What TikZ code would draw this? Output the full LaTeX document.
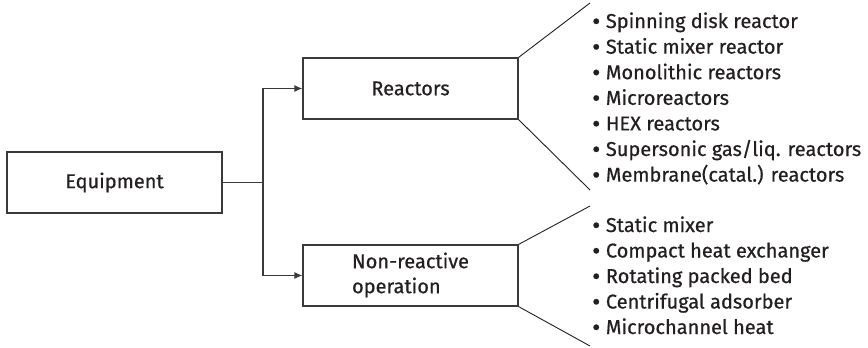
\documentclass[tikz,border=0pt]{standalone}
\usepackage{fontspec}
\setmainfont{Fira Sans}[UprightFeatures={FakeBold=0.6}]
\usetikzlibrary{arrows.meta}
\definecolor{ink}{HTML}{231F20}
\definecolor{rule}{HTML}{3A3A3A}
\tikzset{
  box/.style={draw=rule, line width=1.2pt, minimum width=215pt, minimum height=61pt,
    inner sep=0pt, font=\fontsize{20}{26}\selectfont, text=ink},
  link/.style={draw=rule, line width=1.2pt},
  arrowlink/.style={link, -{Latex[length=8pt,width=7pt]}},
  fan/.style={draw=ink, line width=0.9pt},
  item/.style={anchor=base west, inner sep=0pt, font=\fontsize{20}{24}\selectfont, text=ink},
}
\newcommand{\itembullet}{\raisebox{-1.8pt}{\scalebox{1.25}{\textbullet}}\hspace{0.28em}}
\begin{document}
\begin{tikzpicture}[x=1pt,y=-1pt]
\useasboundingbox (0,0) rectangle (868,348);

% main boxes
\node[box] (equip) at (114.5,182.5) {Equipment};
\node[box] (reac) at (410.5,88.5) {Reactors};
\node[box] (nonr) at (410.5,275.5) {\begin{tabular}{@{}l@{}}Non-reactive\\[-1pt] operation\end{tabular}};

% tree connectors
\coordinate (split) at (263,182.5);
\draw[link] (equip.east) -- (split);
\draw[arrowlink] (split) |- (reac.west);
\draw[arrowlink] (split) |- (nonr.west);

% fan-out ends of the bracket lines
\coordinate (rt) at (590,3);
\coordinate (rb) at (590,190);
\coordinate (nt) at (590,206);
\coordinate (nb) at (590,346);
\draw[fan] (reac.north east) -- (rt);
\draw[fan] (reac.south east) -- (rb);
\draw[fan] (nonr.north east) -- (nt);
\draw[fan] (nonr.south east) -- (nb);

% reactor types
\foreach \t [count=\i] in {Spinning disk reactor, Static mixer reactor,
    Monolithic reactors, Microreactors, HEX reactors,
    Supersonic gas/liq. reactors, Membrane(catal.) reactors}
  \node[item] (r\i) at (592,{28+25.6*(\i-1)}) {\itembullet\t};

% non-reactive operations
\foreach \t [count=\i] in {Static mixer, Compact heat exchanger,
    Rotating packed bed, Centrifugal adsorber, Microchannel heat}
  \node[item] (n\i) at (592,{232+25.5*(\i-1)}) {\itembullet\t};
\end{tikzpicture}
\end{document}
